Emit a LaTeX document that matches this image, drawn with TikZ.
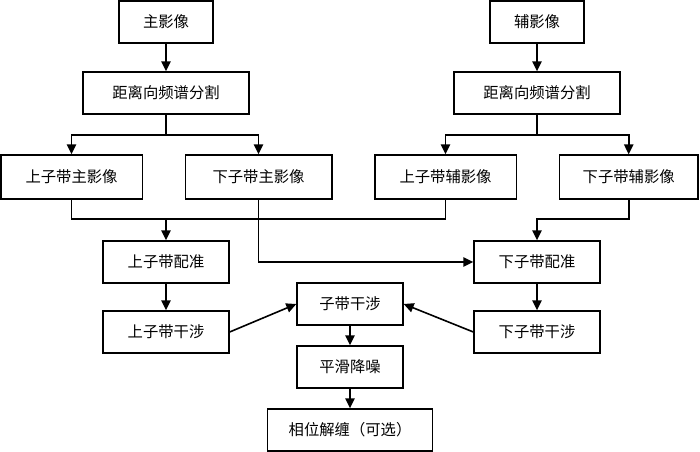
\documentclass[tikz,border=0pt]{standalone}
\usepackage{fontspec}
\newfontfamily\cjk{Noto Sans CJK SC}
\usetikzlibrary{arrows.meta}

\tikzset{
  passo/.style={draw,line width=1pt,inner sep=0pt,minimum height=31.5pt,font=\cjk\fontsize{11.5}{13}\selectfont},
  freccia/.style={line width=1.2pt,-{Triangle[length=7.5pt,width=7pt]}},
  linea/.style={line width=1.2pt}
}

\begin{document}
\begin{tikzpicture}[x=0.75pt,y=-0.75pt]
\useasboundingbox (0,0) rectangle (700,452);

%Immagini
\node[passo,minimum width=70.5pt] (zhu) at (166,22) {主影像};
\node[passo,minimum width=70.5pt] (fu) at (537,22) {辅影像};

\node[passo,minimum width=124.5pt] (fenge1) at (166,93) {距离向频谱分割};
\node[passo,minimum width=124.5pt] (fenge2) at (537,93) {距离向频谱分割};

\node[passo,minimum width=106pt,minimum height=33pt] (szz) at (71.5,177) {上子带主影像};
\node[passo,minimum width=110pt,minimum height=33pt] (xzz) at (258.5,177) {下子带主影像};
\node[passo,minimum width=106pt,minimum height=33pt] (szf) at (445.5,177) {上子带辅影像};
\node[passo,minimum width=104pt,minimum height=33pt] (xzf) at (628.7,177) {下子带辅影像};

%Registrazione e interferenza
\node[passo,minimum width=94.5pt] (szpz) at (166,262) {上子带配准};
\node[passo,minimum width=94.5pt] (xzpz) at (537,262) {下子带配准};
\node[passo,minimum width=94.5pt] (szgs) at (166,332) {上子带干涉};
\node[passo,minimum width=94.5pt] (xzgs) at (537,332) {下子带干涉};

\node[passo,minimum width=79.5pt] (zdgs) at (350,304) {子带干涉};
\node[passo,minimum width=79.5pt] (ph) at (350,367) {平滑降噪};
\node[passo,minimum width=123.5pt] (xw) at (350,430) {相位解缠（可选）};

\coordinate (b1) at (166,135);
\coordinate (b2) at (537,135);
\coordinate (j1) at (166,219);
\coordinate (j2) at (537,219);

\draw[freccia] (zhu) -- (fenge1);
\draw[freccia] (fu) -- (fenge2);

\draw[freccia] (fenge1.south) -- (b1) -| (szz);
\draw[freccia] (b1) -| (xzz);
\draw[freccia] (fenge2.south) -- (b2) -| (szf);
\draw[freccia] (b2) -| (xzf);

\draw[linea] (szz.south) |- (j1) -| (szf.south);
\draw[freccia] (j1) -- (szpz);
\draw[freccia] (xzz.south) |- (xzpz.west);
\draw[freccia] (xzf.south) |- (j2) -- (xzpz);

\draw[freccia] (szpz) -- (szgs);
\draw[freccia] (xzpz) -- (xzgs);
\draw[freccia] (szgs.east) -- (zdgs.west);
\draw[freccia] (xzgs.west) -- (zdgs.east);
\draw[freccia] (zdgs) -- (ph);
\draw[freccia] (ph) -- (xw);

\end{tikzpicture}
\end{document}
